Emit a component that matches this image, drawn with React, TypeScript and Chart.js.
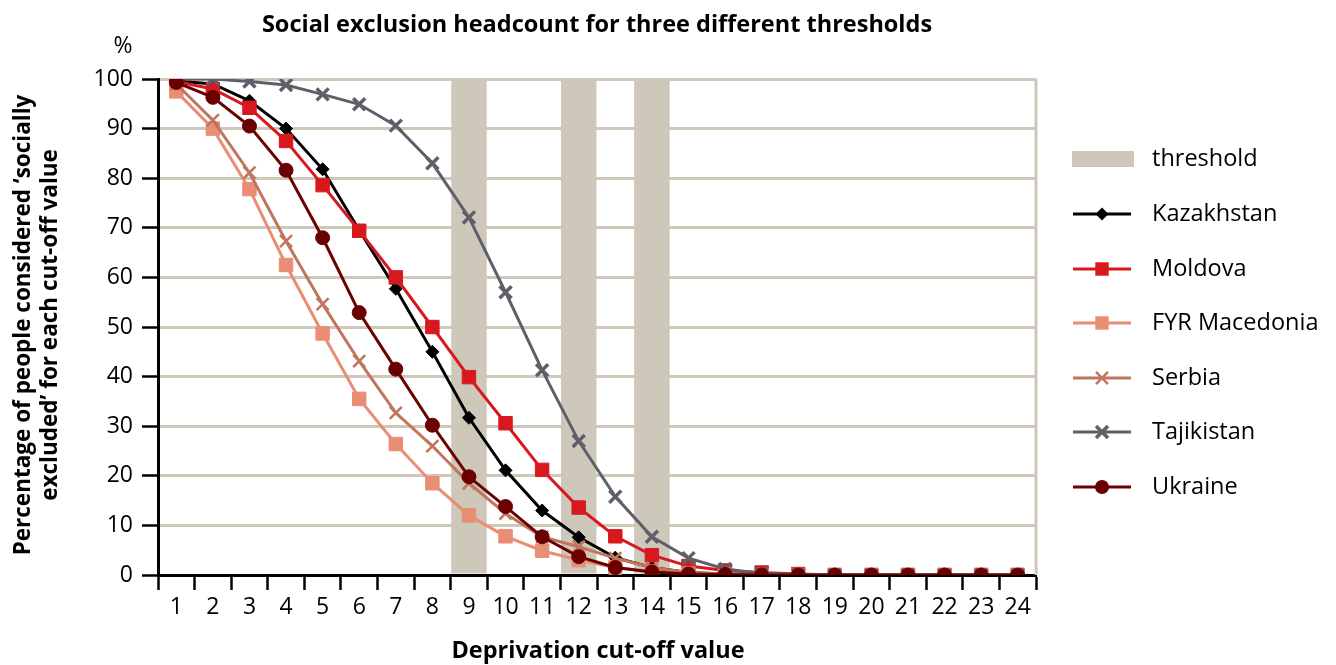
import React, { useEffect, useRef } from "react";
import { Chart, registerables } from "chart.js";

Chart.register(...registerables);

const categories = ["1","2","3","4","5","6","7","8","9","10","11","12","13","14","15","16","17","18","19","20","21","22","23","24"];
const threshold = [null,null,null,null,null,null,null,null,100,null,null,100,null,100,null,null,null,null,null,null,null,null,null,null];
const kazakhstan = [99.6,99.0,95.6,90.0,81.8,69.5,57.7,45.0,31.7,21.1,13.0,7.6,3.5,1.5,0.5,0.2,0,0,0,0,0,0,0,0];
const moldova = [99.5,98.0,94.2,87.5,78.6,69.4,60.0,50.0,39.9,30.6,21.2,13.6,7.8,4.0,1.8,0.9,0.5,0.2,0,0,0,0,0,0];
const macedonia = [97.5,90.0,77.8,62.5,48.7,35.5,26.4,18.5,12.0,7.8,4.9,3.0,1.5,0.7,0.3,0.1,0,0,0,0,0,0,0,0];
const serbia = [99.0,91.7,81.1,67.3,54.6,43.1,32.7,26.0,18.5,12.4,7.7,5.7,3.4,1.5,0.5,0.2,0,0,0,0,0,0,0,0];
const tajikistan = [100,100,99.5,98.8,96.9,94.9,90.6,83.0,72.1,57.0,41.3,27.0,15.8,7.7,3.4,1.2,0.3,0.1,0,0,0,0,0,0];
const ukraine = [99.3,96.3,90.5,81.6,68.0,52.9,41.5,30.2,19.8,13.8,7.7,3.7,1.5,0.6,0.2,0.1,0,0,0,0,0,0,0,0];

const TITLE = "Social exclusion headcount for three different thresholds";
const Y_TITLE_1 = "Percentage of people considered \u2018socially";
const Y_TITLE_2 = "excluded\u2019 for each cut-off value";
const X_TITLE = "Deprivation cut-off value";

const FONT = "'Open Sans', 'Noto Sans', sans-serif";
const GRID = "#cdc8b9";
const BAND = "#cdc8b9";

type Series = { label: string; data: number[]; color: string; style: string; radius: number; bw: number };
const series: Series[] = [
  { label: "Kazakhstan", data: kazakhstan, color: "#000000", style: "rectRot", radius: 6.5, bw: 1 },
  { label: "Moldova", data: moldova, color: "#d7191f", style: "rect", radius: 9.5, bw: 1 },
  { label: "FYR Macedonia", data: macedonia, color: "#e98d74", style: "rect", radius: 9.5, bw: 1 },
  { label: "Serbia", data: serbia, color: "#c0755d", style: "crossRot", radius: 8.5, bw: 2.5 },
  { label: "Tajikistan", data: tajikistan, color: "#5f5f69", style: "crossRot", radius: 8.5, bw: 3.5 },
  { label: "Ukraine", data: ukraine, color: "#6b0000", style: "circle", radius: 7, bw: 1 },
];

function drawMarker(ctx: CanvasRenderingContext2D, s: Series, x: number, y: number) {
  ctx.save();
  ctx.fillStyle = s.color;
  ctx.strokeStyle = s.color;
  const r = s.radius;
  ctx.beginPath();
  if (s.style === "rectRot") {
    ctx.moveTo(x, y - r); ctx.lineTo(x + r, y); ctx.lineTo(x, y + r); ctx.lineTo(x - r, y); ctx.closePath(); ctx.fill();
  } else if (s.style === "rect") {
    const h = r * Math.SQRT1_2; ctx.rect(x - h, y - h, 2 * h, 2 * h); ctx.fill();
  } else if (s.style === "circle") {
    ctx.arc(x, y, r, 0, Math.PI * 2); ctx.fill();
  } else {
    const h = r * Math.SQRT1_2; ctx.lineWidth = s.bw;
    ctx.moveTo(x - h, y - h); ctx.lineTo(x + h, y + h); ctx.moveTo(x + h, y - h); ctx.lineTo(x - h, y + h); ctx.stroke();
  }
  ctx.restore();
}

const overlay = {
  id: "overlay",
  beforeDatasetsDraw(chart: any) {
    const ctx = chart.ctx; const a = chart.chartArea;
    ctx.save();
    ctx.strokeStyle = GRID; ctx.lineWidth = 3;
    ctx.beginPath(); ctx.moveTo(a.right, a.top); ctx.lineTo(a.right, a.bottom); ctx.stroke();
    ctx.restore();
  },
  afterDraw(chart: any) {
    const ctx = chart.ctx;
    ctx.save();
    ctx.fillStyle = "#000";
    ctx.textBaseline = "middle";
    ctx.textAlign = "center";
    ctx.font = `bold 23.5px ${FONT}`;
    ctx.fillText(TITLE, 597, 25);
    ctx.fillText(X_TITLE, 598, 651);
    ctx.font = `23px ${FONT}`;
    ctx.fillText("%", 123, 46);
    ctx.save();
    ctx.translate(24, 325);
    ctx.rotate(-Math.PI / 2);
    ctx.font = `bold 22.5px ${FONT}`;
    ctx.fillText(Y_TITLE_1, 0, 0);
    ctx.fillText(Y_TITLE_2, 0, 27);
    ctx.restore();
    // legend
    const rows = [159, 214, 269, 323, 378, 432, 487];
    ctx.font = `23.5px ${FONT}`;
    ctx.textAlign = "left";
    ctx.fillStyle = BAND;
    ctx.fillRect(1072, rows[0] - 8, 62, 16);
    ctx.fillStyle = "#000";
    ctx.fillText("threshold", 1152, rows[0]);
    series.forEach((s, i) => {
      const y = rows[i + 1];
      ctx.strokeStyle = s.color; ctx.lineWidth = 3;
      ctx.beginPath(); ctx.moveTo(1073, y); ctx.lineTo(1131, y); ctx.stroke();
      drawMarker(ctx, s, 1102, y);
      ctx.fillStyle = "#000";
      ctx.fillText(s.label, 1152, y);
    });
    ctx.restore();
  },
};

export default function App() {
  const ref = useRef<HTMLCanvasElement | null>(null);
  useEffect(() => {
    if (!ref.current) return;
    const datasets: any[] = [
      {
        type: "bar",
        label: "threshold",
        data: threshold,
        backgroundColor: BAND,
        borderWidth: 0,
        barPercentage: 1,
        categoryPercentage: 0.97,
        order: 20,
      },
      ...series.map((s, i) => ({
        type: "line",
        label: s.label,
        data: s.data,
        borderColor: s.color,
        backgroundColor: s.color,
        borderWidth: 3,
        pointStyle: s.style,
        pointRadius: s.radius,
        pointBorderWidth: s.bw,
        pointBorderColor: s.color,
        pointBackgroundColor: s.color,
        tension: 0,
        order: 10 - i,
      })),
    ];
    const chart = new Chart(ref.current, {
      type: "bar",
      data: { labels: categories, datasets },
      options: {
        responsive: false,
        animation: false,
        layout: { padding: { top: 79, right: 300, left: 0, bottom: 0 } },
        plugins: { legend: { display: false }, title: { display: false }, tooltip: { enabled: false } },
        scales: {
          x: {
            offset: true,
            grid: { display: true, drawOnChartArea: false, drawTicks: true, tickLength: 15, tickColor: "#000", tickWidth: 2.5, offset: true },
            border: { display: true, color: "#000", width: 3 },
            ticks: { color: "#000", font: { family: FONT, size: 23 }, padding: 4, maxRotation: 0, autoSkip: false },
            afterFit: (s: any) => { s.height = 90; },
          },
          y: {
            min: 0,
            max: 100,
            ticks: { stepSize: 10, color: "#000", font: { family: FONT, size: 23 }, padding: 9 },
            grid: {
              color: (c: any) => (c.index === 0 ? "rgba(0,0,0,0)" : GRID),
              lineWidth: 3,
              tickColor: "#000",
              tickWidth: 2.5,
              tickLength: 16,
            },
            border: { display: true, color: "#000", width: 3 },
            afterFit: (s: any) => { s.width = 158; },
          },
        },
      },
      plugins: [overlay],
    } as any);
    return () => chart.destroy();
  }, []);
  return (
    <div style={{ position: "fixed", left: 0, top: 0, width: 1336, height: 665, background: "#fff" }}>
      <canvas ref={ref} width={1336} height={665} style={{ display: "block" }} />
    </div>
  );
}
